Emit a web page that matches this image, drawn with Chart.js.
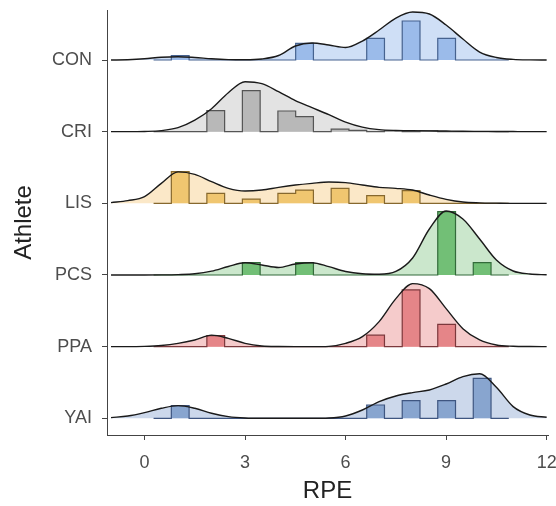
<!DOCTYPE html>
<html>
<head>
<meta charset="utf-8">
<script src="https://cdn.jsdelivr.net/npm/chart.js@4.4.1/dist/chart.umd.min.js"></script>
<style>
  html, body { margin: 0; padding: 0; background: #fff; }
  #wrap { width: 556px; height: 506px; position: relative; }
</style>
</head>
<body>
<div id="wrap"><canvas id="ridges"></canvas></div>
<script>
'use strict';

/* ─────────────────────────────────────────────
   Data
   Ridges listed top to bottom; heights are in
   "ridge px" (one ridge step = RIDGE_STEP)
───────────────────────────────────────────── */

const athletes = ['CON', 'CRI', 'LIS', 'PCS', 'PPA', 'YAI'];
const rpeTicks = [0, 3, 6, 9, 12];

const binEdges = [0.27, 0.80, 1.33, 1.86, 2.39, 2.92, 3.45, 3.98, 4.51, 5.04, 5.57,
                  6.10, 6.63, 7.16, 7.69, 8.22, 8.75, 9.28, 9.81, 10.34, 10.87];

const densX = [-1, -0.5, 0, 0.5, 1, 1.5, 2, 2.5, 3, 3.5, 4, 4.5, 5, 5.5, 6, 6.5,
               7, 7.5, 8, 8.5, 9, 9.5, 10, 10.5, 11, 11.5, 12];

const densCON = [0, 0.3, 1.2, 2.8, 3.3, 2.5, 1.2, 0.4, 0.2, 1, 4.5, 14, 17, 15, 12.5, 19,
                 30, 42, 48, 46, 35, 21, 8, 2.5, 0.6, 0.1, 0];
const densCRI = [0, 0, 0.2, 1, 4, 11.5, 23, 39, 50, 48, 40, 31, 24, 17, 9.5, 4.5,
                 2, 1.2, 1, 0.8, 0.6, 0.4, 0.3, 0.2, 0.1, 0, 0];
const densLIS = [0.7, 2.7, 6.7, 20, 31.5, 29, 21.7, 15, 12.3, 13.3, 16, 18.3, 20, 21.3, 20.7, 18.3,
                 16, 15, 13.3, 8.3, 4, 1.3, 0.5, 0.2, 0, 0, 0];
const densPCS = [0, 0, 0, 0.1, 0.4, 1.2, 3.8, 8.5, 12.3, 10, 7.5, 11, 12.3, 8.3, 3.5, 1.2,
                 0.7, 3.5, 17, 46, 64, 56, 36, 15, 4, 1, 0.2];
const densPPA = [0, 0, 0.3, 1.2, 3.3, 6.7, 11.5, 8.3, 3.3, 0.7, 0.1, 0, 0, 0.3, 3.3, 10,
                 25, 48, 63, 58, 38, 18, 6.7, 1.7, 0.4, 0.1, 0];
const densYAI = [0.7, 2.3, 5.7, 10, 12.7, 10, 5, 1.7, 0.3, 0, 0, 0, 0, 0.3, 2.3, 8.3,
                 16.7, 22.3, 25.7, 28.3, 34.3, 41.7, 44.5, 31, 11.7, 3.3, 1];

const histCON = [0, 4.3, 0, 0, 0, 0, 0, 0, 16.7, 0, 0, 0, 21.7, 0, 39, 0, 21.7, 0, 0, 0];
const histCRI = [0, 0, 0, 21, 0, 41, 0, 20.7, 15, 0, 2.5, 1.2, 0, 0.9, 0, 0.7, 0, 0, 0, 0];
const histLIS = [0, 31.7, 0, 10, 0, 4.3, 0, 10, 13.3, 0, 15, 0, 7.7, 0, 12.7, 0, 0, 0, 0, 0];
const histPCS = [0, 0, 0, 0, 0, 12.3, 0, 0, 12.3, 0, 0, 0, 0, 0, 0, 0, 63.3, 0, 12.3, 0];
const histPPA = [0, 0, 0, 11, 0, 0, 0, 0, 0, 0, 0, 0, 11.5, 0, 56.7, 0, 22.3, 0, 0, 0];
const histYAI = [0, 12.7, 0, 0, 0, 0, 0, 0, 0, 0, 0, 0, 13.3, 0, 17.7, 0, 17.7, 0, 40, 0];

const densities = [densCON, densCRI, densLIS, densPCS, densPPA, densYAI];
const hists     = [histCON, histCRI, histLIS, histPCS, histPPA, histYAI];

/* Colours */
const C_AXIS = '#444';
const C_TICK = '#4d4d4d';
const C_TITLE = '#222';
const C_LINE = '#1a1a1a';
const FILL = { CON: '#cfdff6', CRI: '#e3e3e3', LIS: '#fbe8c8', PCS: '#cbe7cc', PPA: '#f5cbcb', YAI: '#ccd8eb' };
const BAR  = { CON: '#9bbbea', CRI: '#b8b8b8', LIS: '#f0c670', PCS: '#72bf76', PPA: '#e58588', YAI: '#88a5cf' };
const EDGE = { CON: '#46628f', CRI: '#555555', LIS: '#86682e', PCS: '#336b3a', PPA: '#7c383c', YAI: '#3f5681' };

const RIDGE_STEP = 71.66;
const FONT = '"Liberation Sans", Arial, sans-serif';

/* ─────────────────────────────────────────────
   Datasets: density fill, histogram steps, density line
───────────────────────────────────────────── */

function buildDatasets() {
  const sets = [];
  athletes.forEach((name, i) => {
    const row = athletes.length - 1 - i;
    const d = densities[i];
    const h = hists[i];

    const curve = densX.map((x, k) => ({ x, y: row + d[k] / RIDGE_STEP }));
    const steps = [{ x: binEdges[0], y: row }]
      .concat(h.map((v, k) => ({ x: binEdges[k], y: row + v / RIDGE_STEP })))
      .concat([{ x: binEdges[h.length], y: row }]);

    sets.push({
      data: curve, fill: { value: row }, backgroundColor: FILL[name],
      borderWidth: 0, pointRadius: 0, cubicInterpolationMode: 'monotone', order: 30,
    });
    sets.push({
      data: steps, stepped: 'before', fill: { value: row }, backgroundColor: BAR[name],
      borderColor: EDGE[name], borderWidth: 1.2, pointRadius: 0, order: 20,
    });
    sets.push({
      data: curve, fill: false, borderColor: C_LINE, borderWidth: 1.4,
      pointRadius: 0, cubicInterpolationMode: 'monotone', order: 10,
    });
  });
  return sets;
}

new Chart(document.getElementById('ridges').getContext('2d'), {
  type: 'line',
  data: { datasets: buildDatasets() },
  options: {
    animation: false,
    responsive: true,
    maintainAspectRatio: false,
    layout: { padding: { top: 10, right: 8, left: 0, bottom: 0 } },
    plugins: { legend: { display: false }, tooltip: { enabled: false } },
    scales: {
      x: {
        type: 'linear',
        min: -1.12,
        max: 12.04,
        afterBuildTicks: s => { s.ticks = rpeTicks.map(v => ({ value: v })); },
        afterFit: s => { s.height = 71; s.paddingLeft = 0; s.paddingRight = 0; },
        ticks: { autoSkip: false, maxRotation: 0, padding: 12, color: C_TICK, font: { family: FONT, size: 18 } },
        grid: { display: true, drawOnChartArea: false, tickLength: 5, color: C_AXIS },
        border: { display: true, color: C_AXIS, width: 1 },
        title: { display: true, text: 'RPE', color: C_TITLE, font: { family: FONT, size: 24 }, padding: { top: 0, bottom: 0 } },
      },
      y: {
        type: 'linear',
        min: -0.233,
        max: 5.698,
        afterBuildTicks: s => { s.ticks = athletes.map((_, k) => ({ value: k })); },
        afterFit: s => { s.width = 107; s.paddingTop = 0; s.paddingBottom = 0; },
        ticks: {
          autoSkip: false, padding: 10, color: C_TICK, font: { family: FONT, size: 18 },
          callback: v => athletes[athletes.length - 1 - v],
        },
        grid: { display: true, drawOnChartArea: false, tickLength: 5, color: C_AXIS },
        border: { display: true, color: C_AXIS, width: 1 },
        title: { display: true, text: 'Athlete', color: C_TITLE, font: { family: FONT, size: 24 }, padding: { top: 10, bottom: 0 } },
      },
    },
  },
});
</script>
</body>
</html>
